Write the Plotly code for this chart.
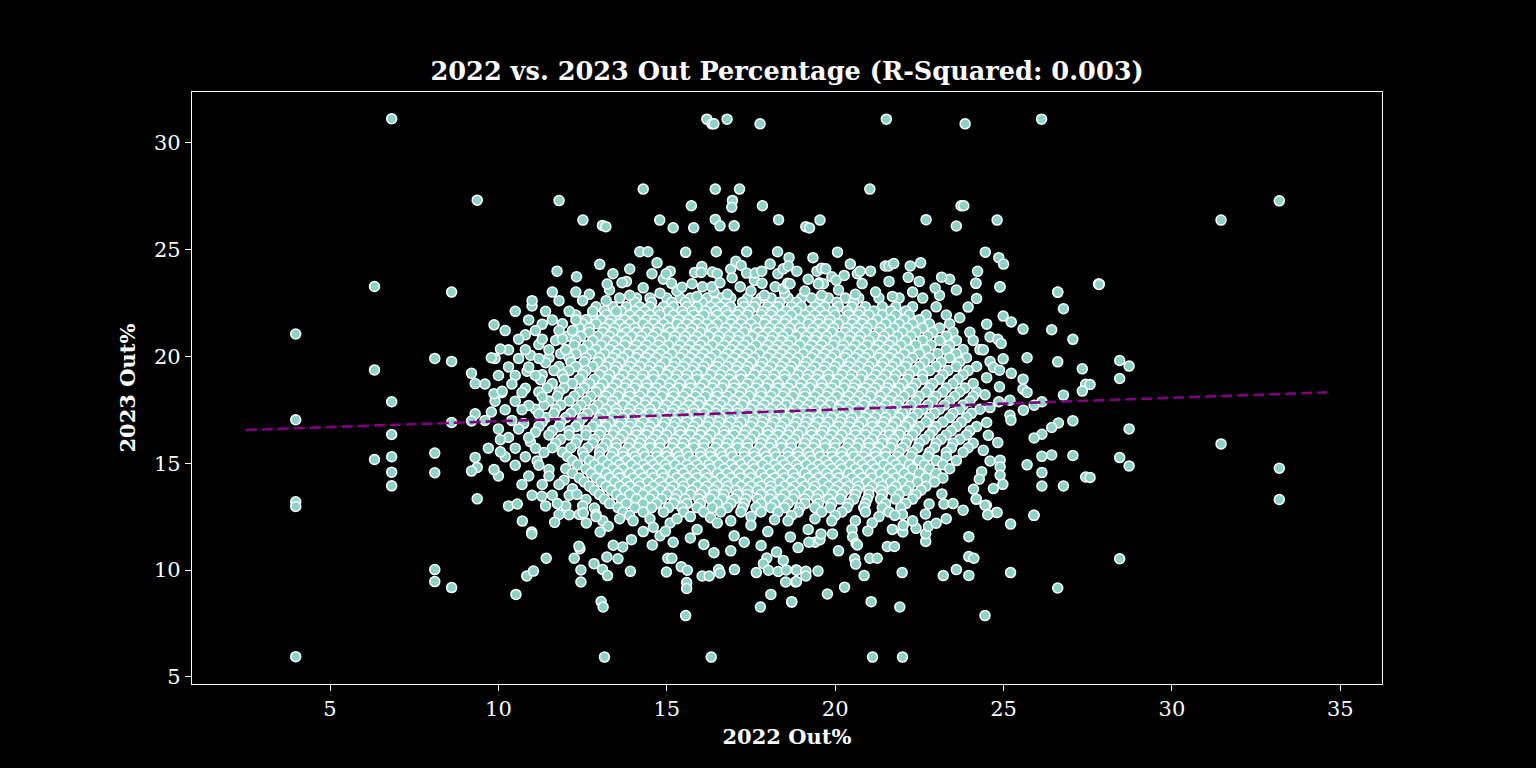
import plotly.graph_objects as go

# ---- data -----------------------------------------------------------------
# sparse points on the left side (2022 Out%, 2023 Out%)
left_pts = [
    (6.83, 31.11), (9.37, 27.30), (6.32, 23.26), (8.61, 23.00), (9.87, 21.47),
    (3.98, 21.04), (8.11, 19.90), (8.61, 19.76), (9.79, 19.93), (10.06, 20.34),
    (6.32, 19.36), (9.20, 19.20), (9.31, 18.72), (9.87, 18.25), (10.11, 18.36),
    (6.83, 17.87), (3.98, 17.03), (9.31, 17.31), (9.79, 17.39), (8.61, 16.90),
    (9.20, 16.97), (6.83, 16.34), (10.06, 16.10), (10.06, 15.53), (6.32, 15.17),
    (6.83, 15.30), (8.11, 15.47), (9.31, 15.27), (9.37, 14.80), (9.20, 14.63),
    (9.87, 14.70), (6.83, 14.58), (8.11, 14.55), (6.83, 13.94), (3.98, 13.19),
    (3.98, 12.97), (9.37, 13.33), (8.11, 10.02), (8.11, 9.46), (8.61, 9.18),
    (3.98, 5.95),
]

# sparse points on the far right
right_pts = [
    (33.19, 27.27), (31.46, 26.37), (27.84, 23.36), (28.45, 19.80), (28.73, 19.54),
    (28.45, 18.96), (27.57, 18.68), (28.73, 16.60), (31.46, 15.90), (28.45, 15.26),
    (28.73, 14.87), (33.19, 14.76), (33.19, 13.30), (28.45, 10.53), (27.57, 14.33),
]

# upper fringe of the cloud
top_pts = [
    (16.19, 31.09), (16.34, 30.87), (16.40, 30.87), (16.79, 31.09), (17.77, 30.87),
    (14.30, 27.82), (16.44, 27.82), (17.16, 27.82), (11.80, 27.28), (16.95, 27.29),
    (16.93, 26.97), (15.73, 27.04), (17.84, 27.04), (12.51, 26.37), (13.09, 26.12),
    (13.19, 26.06), (14.79, 26.37), (15.19, 26.01), (15.80, 26.01), (16.44, 26.40),
    (16.58, 26.10), (17.00, 26.10), (18.32, 26.39), (14.20, 24.89), (14.44, 24.89),
    (15.56, 24.86), (16.47, 24.89), (17.37, 24.89), (18.29, 24.89), (11.74, 23.98),
    (12.32, 23.72), (13.01, 24.30), (13.40, 23.86), (13.90, 24.08), (14.71, 24.37),
    (14.56, 23.86), (15.10, 23.98), (14.98, 23.86), (13.23, 23.38), (13.67, 23.44),
    (15.14, 23.41), (15.45, 23.23), (15.75, 23.39), (15.83, 23.92), (16.04, 24.20),
    (16.02, 23.92), (16.35, 23.94), (16.50, 23.86), (16.90, 24.08), (17.05, 24.44),
    (17.21, 24.25), (17.37, 23.89), (17.63, 23.89), (17.82, 23.98), (18.07, 24.31),
    (18.30, 23.86), (18.46, 24.09), (18.63, 24.61), (18.61, 24.22), (18.86, 23.98),
    (16.94, 23.67), (17.18, 23.25), (17.83, 23.41), (16.06, 23.25), (16.34, 23.25),
    (16.58, 23.44), (18.22, 23.25), (18.46, 23.17), (18.59, 23.41),
    (21.52, 31.09), (23.86, 30.87), (26.13, 31.09), (21.03, 27.82), (23.74, 27.04),
    (23.82, 27.04), (19.55, 26.37), (19.13, 26.06), (19.24, 26.00), (22.70, 26.39),
    (23.60, 26.09), (24.81, 26.37), (19.34, 24.61), (20.07, 24.87), (20.45, 24.31),
    (19.46, 23.98), (19.60, 24.12), (19.72, 24.09), (19.53, 23.44), (19.65, 23.39),
    (19.90, 23.72), (20.03, 23.56), (20.27, 23.78), (20.66, 23.86), (20.74, 23.98),
    (21.05, 23.98), (21.49, 24.22), (21.59, 24.22), (21.74, 24.34), (22.23, 24.22),
    (22.54, 24.37), (22.17, 23.69), (23.16, 23.70), (22.97, 23.19), (24.46, 24.87),
    (24.86, 24.61), (25.00, 24.31), (24.23, 23.97), (24.18, 23.42), (24.89, 23.24),
    (26.61, 23.00), (27.82, 23.38), (18.66, 23.39), (19.50, 23.38),
]

# lower fringe of the cloud
bottom_pts = [
    (13.15, 5.93), (16.32, 5.93), (15.56, 7.87), (10.52, 8.86), (13.05, 8.53),
    (13.11, 8.27), (10.84, 9.72), (11.04, 9.95), (12.45, 9.44), (12.45, 10.00),
    (11.42, 10.55), (12.25, 10.55), (12.42, 11.00), (12.39, 11.11), (12.84, 10.30),
    (13.09, 10.03), (13.24, 9.74), (13.22, 10.61), (13.55, 10.53), (13.92, 9.94),
    (15.59, 9.42), (15.59, 9.14), (15.43, 10.16), (15.61, 9.99), (14.99, 9.91),
    (15.03, 10.55), (15.15, 10.55), (16.05, 9.72), (16.26, 9.72), (16.54, 10.02),
    (16.58, 9.86), (17.01, 10.02), (16.40, 10.81), (17.66, 9.88), (18.09, 8.86),
    (17.78, 8.27), (18.71, 8.50), (18.53, 9.44), (18.82, 9.44), (10.71, 12.29),
    (10.99, 11.78), (10.99, 11.69), (10.30, 13.00), (10.56, 13.09), (11.29, 13.45),
    (11.67, 12.23), (14.57, 11.17), (15.19, 11.30), (14.96, 11.81), (13.95, 11.42),
    (13.69, 11.08), (13.41, 11.16), (13.02, 11.78), (13.26, 12.05), (12.61, 12.20),
    (12.52, 12.67), (11.75, 13.11), (12.10, 12.59), (12.33, 13.54), (18.67, 11.55),
    (18.26, 10.84), (18.46, 10.45), (17.97, 10.56), (17.87, 10.30), (18.02, 9.99),
    (18.31, 9.93), (18.55, 10.00), (18.84, 10.00),
    (14.0, 12.3), (14.6, 12.0), (15.3, 12.4), (15.9, 11.9), (16.5, 12.2),
    (17.0, 11.6), (17.5, 12.1), (18.0, 11.8), (18.6, 12.3), (19.2, 11.9),
    (19.9, 12.3), (20.5, 11.9), (21.1, 12.2), (21.7, 11.9), (22.3, 12.3),
    (16.1, 11.2), (16.9, 10.9), (17.3, 11.3), (19.4, 11.3), (14.3, 11.8),
    (13.6, 12.4), (12.9, 12.5),
    (21.11, 5.93), (22.00, 5.93), (24.45, 7.87), (21.92, 8.27), (21.07, 8.52),
    (26.61, 9.16), (19.77, 8.88), (20.28, 9.20), (18.71, 8.52), (18.85, 9.46),
    (18.86, 9.99), (19.13, 9.94), (19.13, 9.72), (19.49, 9.95), (20.86, 9.74),
    (21.99, 9.88), (23.21, 9.74), (23.60, 10.02), (23.97, 9.75), (25.21, 9.88),
    (25.90, 12.56), (25.21, 12.15), (23.97, 11.56), (23.97, 10.63), (24.12, 10.55),
    (22.69, 11.34), (22.69, 11.70), (22.77, 12.05), (23.00, 12.19), (22.68, 12.62),
    (22.79, 13.09), (23.17, 13.56), (23.23, 13.09), (23.50, 13.11), (24.19, 13.32),
    (24.45, 13.03), (24.53, 12.59), (24.81, 12.69), (21.55, 11.10), (21.76, 11.10),
    (21.03, 10.55), (21.25, 10.55), (20.58, 10.53), (20.61, 10.28), (20.52, 11.55),
    (20.62, 11.24), (20.66, 11.17), (20.97, 11.83), (22.01, 11.78), (22.02, 12.09),
    (21.77, 12.56), (19.22, 11.30), (19.55, 11.42), (19.92, 11.69), (19.58, 11.69),
]

# flanks of the cloud
flank_pts = [
    (24.90, 23.25), (24.18, 23.41), (26.61, 22.99), (27.84, 23.38), (26.78, 22.22),
    (24.99, 21.88), (25.23, 21.60), (25.58, 21.27), (26.43, 21.24), (27.06, 20.79),
    (24.83, 20.79), (24.93, 20.60), (24.99, 19.88), (24.70, 19.48), (24.88, 19.35),
    (25.70, 19.93), (26.61, 19.74), (27.34, 19.41), (25.23, 19.20), (25.58, 18.93),
    (25.58, 18.46), (25.70, 18.31), (24.88, 18.57), (27.44, 18.69), (27.34, 18.37),
    (26.78, 18.18), (24.86, 17.87), (25.19, 17.94), (25.59, 17.48), (25.91, 17.71),
    (26.14, 17.87), (25.19, 17.24), (25.22, 17.01), (27.06, 16.98), (26.63, 16.88),
    (26.43, 16.67), (26.14, 16.35), (25.91, 16.18), (24.83, 15.96), (26.14, 15.32),
    (26.43, 15.38), (27.06, 15.36), (25.70, 14.92), (24.90, 15.14), (24.90, 14.82),
    (24.90, 14.43), (26.14, 14.56), (27.44, 14.35), (26.14, 13.93), (26.78, 13.93),
    (24.70, 13.81), (24.98, 14.01), (24.28, 14.25), (24.11, 13.78), (24.19, 13.31),
    (24.49, 13.03), (24.79, 12.69), (25.91, 12.56),
    (11.6, 23.0), (12.3, 23.0), (11.0, 22.6), (11.8, 22.6), (12.5, 22.6), (13.2, 22.6),
    (10.5, 22.1), (11.4, 22.1), (12.1, 22.1), (12.8, 22.1), (13.5, 22.1),
    (10.9, 21.7), (11.6, 21.7), (12.3, 21.7), (10.2, 21.2), (11.1, 21.2), (11.8, 21.2),
    (12.2, 21.2), (10.6, 20.8), (11.3, 20.8), (11.9, 20.8), (10.3, 20.3), (10.8, 20.3),
    (11.5, 20.3), (12.0, 20.3), (9.9, 19.9), (10.6, 19.9), (11.2, 19.9), (10.3, 19.5),
    (10.9, 19.5), (10.0, 19.1), (10.5, 19.1), (11.1, 19.1), (9.6, 18.7), (10.4, 18.7),
    (10.1, 18.3), (10.7, 18.3), (9.9, 17.9), (10.5, 17.9), (10.2, 17.5), (10.7, 17.5),
    (9.6, 17.0), (10.4, 17.0), (10.0, 16.6), (10.6, 16.6), (10.3, 16.2), (10.9, 16.2),
    (9.7, 15.7), (10.5, 15.7), (11.1, 15.7), (10.2, 15.3), (10.8, 15.3), (10.5, 14.9),
    (11.2, 14.9), (10.0, 14.4), (10.9, 14.4), (11.5, 14.4), (10.7, 14.0), (11.3, 14.0),
    (11.8, 14.0), (11.0, 13.5), (11.6, 13.5), (12.1, 13.5), (11.4, 13.0), (12.0, 13.0),
    (12.5, 13.0), (11.8, 12.6), (12.4, 12.6), (12.9, 12.6),
]

# transition band just outside the dense core
band_pts = [
    (12.7, 22.9), (13.3, 23.1), (13.9, 22.85), (14.3, 23.2), (14.8, 22.95), (15.3, 23.05),
    (15.9, 22.8), (16.4, 23.0), (16.8, 22.9), (17.5, 23.05), (17.9, 22.85), (18.5, 22.95),
    (19.1, 23.05), (19.6, 22.85), (20.1, 23.1), (20.6, 22.9), (21.2, 23.0), (21.7, 22.8),
    (22.3, 23.0), (23.1, 22.85), (23.6, 23.1), (13.8, 23.5), (14.9, 23.6), (17.6, 23.55),
    (19.2, 23.6), (20.8, 23.4), (21.6, 23.5), (22.5, 23.5), (23.4, 23.6),
    (13.1, 12.3), (13.9, 12.55), (14.5, 12.4), (15.1, 12.2), (15.7, 12.5), (16.3, 12.45),
    (16.9, 12.3), (17.5, 12.5), (18.2, 12.35), (18.7, 12.55), (19.4, 12.4), (20.0, 12.55),
    (20.6, 12.3), (21.3, 12.5), (22.0, 12.6), (22.4, 11.95), (23.3, 12.4), (23.8, 12.8),
    (14.8, 11.6), (15.7, 11.5), (18.9, 11.05), (20.1, 10.9), (17.8, 11.15),
    (24.5, 21.5), (24.6, 20.9), (24.4, 20.3), (24.6, 19.75), (24.5, 19.0), (24.45, 18.2),
    (24.6, 17.6), (24.5, 16.9), (24.55, 16.3), (24.4, 15.6), (24.6, 15.1), (24.35, 14.6),
    (23.95, 22.3), (24.2, 22.7), (23.7, 21.8),
    (11.0, 22.35), (11.3, 21.5), (10.8, 21.0), (11.2, 20.55), (10.95, 20.05), (11.4, 19.7),
    (10.85, 19.3), (11.25, 18.9), (10.8, 18.5), (11.3, 18.1), (10.9, 17.7), (11.2, 17.3),
    (10.75, 16.85), (11.1, 16.45), (10.95, 16.0), (11.35, 15.5), (11.15, 15.1), (11.5, 14.7),
    (11.95, 14.2), (12.2, 13.8), (12.6, 13.3), (12.85, 12.9),
]

# dense core, first layer: one 2023 value per row, 2022 values along it
core_y = [22.72, 22.31, 21.93, 21.52, 21.12, 20.74, 20.31, 19.93, 19.52, 19.14,
          18.72, 18.33, 17.91, 17.52, 17.13, 16.71, 16.32, 15.93, 15.51, 15.12,
          14.74, 14.31, 13.92, 13.53, 13.11, 12.72]
core_x = [
    [13.6, 14.1, 14.5, 15.0, 15.4, 15.7, 16.2, 16.6, 16.9, 17.4, 17.8, 18.1, 18.6, 19.0, 19.3, 19.8, 20.3, 20.7, 21.3, 21.9, 22.6],
    [12.9, 13.4, 13.8, 14.2, 14.5, 14.9, 15.2, 15.6, 15.9, 16.3, 16.6, 16.9, 17.3, 17.6, 18.0, 18.3, 18.7, 19.0, 19.4, 19.7, 20.1, 20.5, 20.9, 21.4, 21.8, 22.3, 23.0],
    [12.3, 12.8, 13.2, 13.5, 13.9, 14.2, 14.5, 14.8, 15.2, 15.5, 15.8, 16.1, 16.5, 16.8, 17.1, 17.4, 17.8, 18.1, 18.4, 18.7, 19.1, 19.4, 19.7, 20.0, 20.4, 20.7, 21.0, 21.4, 21.8, 22.2, 22.7, 23.3],
    [11.9, 12.5, 12.9, 13.3, 13.6, 13.9, 14.3, 14.6, 14.9, 15.3, 15.6, 15.9, 16.2, 16.5, 16.9, 17.2, 17.5, 17.9, 18.2, 18.5, 18.8, 19.2, 19.5, 19.8, 20.1, 20.5, 20.8, 21.1, 21.5, 21.9, 22.3, 22.8, 23.4],
    [12.2, 12.7, 13.1, 13.4, 13.8, 14.1, 14.4, 14.7, 15.1, 15.4, 15.7, 16.0, 16.4, 16.7, 17.0, 17.3, 17.7, 18.0, 18.3, 18.6, 19.0, 19.3, 19.6, 19.9, 20.3, 20.6, 20.9, 21.3, 21.6, 22.0, 22.4, 22.9, 23.5, 24.0],
    [11.7, 12.3, 12.8, 13.2, 13.5, 13.8, 14.2, 14.5, 14.8, 15.2, 15.5, 15.8, 16.1, 16.5, 16.8, 17.1, 17.4, 17.8, 18.1, 18.4, 18.7, 19.1, 19.4, 19.7, 20.0, 20.4, 20.7, 21.0, 21.4, 21.7, 22.1, 22.6, 23.1, 23.6, 24.1],
    [12.0, 12.5, 12.9, 13.3, 13.6, 14.0, 14.3, 14.6, 14.9, 15.3, 15.6, 15.9, 16.2, 16.6, 16.9, 17.2, 17.5, 17.9, 18.2, 18.5, 18.8, 19.2, 19.5, 19.8, 20.2, 20.5, 20.8, 21.2, 21.5, 21.8, 22.2, 22.7, 23.3, 23.8, 24.3],
    [11.5, 12.1, 12.6, 13.0, 13.4, 13.7, 14.1, 14.4, 14.7, 15.0, 15.4, 15.7, 16.0, 16.3, 16.7, 17.0, 17.3, 17.6, 18.0, 18.3, 18.6, 18.9, 19.3, 19.6, 19.9, 20.3, 20.6, 20.9, 21.3, 21.6, 21.9, 22.3, 22.8, 23.4, 23.9],
    [11.8, 12.3, 12.8, 13.2, 13.5, 13.9, 14.2, 14.5, 14.8, 15.2, 15.5, 15.8, 16.1, 16.5, 16.8, 17.1, 17.4, 17.8, 18.1, 18.4, 18.7, 19.1, 19.4, 19.7, 20.0, 20.4, 20.7, 21.0, 21.4, 21.7, 22.1, 22.5, 23.0, 23.6, 24.2],
    [11.3, 11.9, 12.5, 13.0, 13.3, 13.7, 14.0, 14.3, 14.6, 15.0, 15.3, 15.6, 15.9, 16.3, 16.6, 16.9, 17.2, 17.6, 17.9, 18.2, 18.5, 18.9, 19.2, 19.5, 19.8, 20.2, 20.5, 20.8, 21.2, 21.5, 21.8, 22.2, 22.6, 23.2, 23.8],
    [11.6, 12.2, 12.7, 13.1, 13.5, 13.8, 14.1, 14.4, 14.8, 15.1, 15.4, 15.7, 16.1, 16.4, 16.7, 17.0, 17.4, 17.7, 18.0, 18.3, 18.7, 19.0, 19.3, 19.6, 20.0, 20.3, 20.6, 21.0, 21.3, 21.6, 22.0, 22.4, 22.9, 23.5, 24.1],
    [11.2, 11.8, 12.4, 12.9, 13.3, 13.6, 13.9, 14.3, 14.6, 14.9, 15.2, 15.6, 15.9, 16.2, 16.5, 16.9, 17.2, 17.5, 17.8, 18.2, 18.5, 18.8, 19.1, 19.5, 19.8, 20.1, 20.5, 20.8, 21.1, 21.5, 21.8, 22.2, 22.7, 23.2, 23.7, 24.2],
    [11.5, 12.1, 12.6, 13.1, 13.4, 13.8, 14.1, 14.4, 14.7, 15.1, 15.4, 15.7, 16.0, 16.4, 16.7, 17.0, 17.3, 17.7, 18.0, 18.3, 18.6, 19.0, 19.3, 19.6, 19.9, 20.3, 20.6, 20.9, 21.3, 21.6, 21.9, 22.4, 22.9, 23.4, 24.0],
    [11.1, 11.7, 12.3, 12.8, 13.2, 13.5, 13.9, 14.2, 14.5, 14.9, 15.2, 15.5, 15.8, 16.2, 16.5, 16.8, 17.1, 17.5, 17.8, 18.1, 18.4, 18.8, 19.1, 19.4, 19.7, 20.1, 20.4, 20.7, 21.1, 21.4, 21.7, 22.1, 22.6, 23.1, 23.7, 24.3],
    [11.4, 12.0, 12.5, 13.0, 13.4, 13.7, 14.0, 14.3, 14.7, 15.0, 15.3, 15.6, 16.0, 16.3, 16.6, 16.9, 17.3, 17.6, 17.9, 18.2, 18.6, 18.9, 19.2, 19.5, 19.9, 20.2, 20.5, 20.9, 21.2, 21.5, 21.9, 22.3, 22.8, 23.4, 23.9],
    [11.2, 11.8, 12.3, 12.8, 13.2, 13.6, 13.9, 14.2, 14.5, 14.9, 15.2, 15.5, 15.8, 16.2, 16.5, 16.8, 17.1, 17.5, 17.8, 18.1, 18.4, 18.8, 19.1, 19.4, 19.7, 20.1, 20.4, 20.7, 21.1, 21.4, 21.7, 22.1, 22.5, 23.0, 23.6, 24.2],
    [11.5, 12.1, 12.6, 13.0, 13.4, 13.7, 14.1, 14.4, 14.7, 15.0, 15.4, 15.7, 16.0, 16.3, 16.7, 17.0, 17.3, 17.6, 18.0, 18.3, 18.6, 18.9, 19.3, 19.6, 19.9, 20.2, 20.6, 20.9, 21.2, 21.6, 21.9, 22.3, 22.8, 23.3, 23.9],
    [11.7, 12.3, 12.8, 13.2, 13.5, 13.9, 14.2, 14.5, 14.8, 15.2, 15.5, 15.8, 16.1, 16.5, 16.8, 17.1, 17.4, 17.8, 18.1, 18.4, 18.7, 19.1, 19.4, 19.7, 20.0, 20.4, 20.7, 21.0, 21.4, 21.7, 22.1, 22.5, 23.0, 23.5, 24.1],
    [11.9, 12.5, 13.0, 13.4, 13.7, 14.0, 14.3, 14.7, 15.0, 15.3, 15.6, 16.0, 16.3, 16.6, 16.9, 17.3, 17.6, 17.9, 18.2, 18.6, 18.9, 19.2, 19.5, 19.9, 20.2, 20.5, 20.9, 21.2, 21.5, 21.9, 22.3, 22.8, 23.3, 23.8],
    [12.2, 12.7, 13.1, 13.5, 13.8, 14.1, 14.5, 14.8, 15.1, 15.4, 15.8, 16.1, 16.4, 16.7, 17.1, 17.4, 17.7, 18.0, 18.4, 18.7, 19.0, 19.3, 19.7, 20.0, 20.3, 20.7, 21.0, 21.3, 21.7, 22.0, 22.5, 23.0, 23.6],
    [12.0, 12.6, 13.0, 13.4, 13.7, 14.1, 14.4, 14.7, 15.0, 15.4, 15.7, 16.0, 16.3, 16.7, 17.0, 17.3, 17.6, 18.0, 18.3, 18.6, 18.9, 19.3, 19.6, 19.9, 20.2, 20.6, 20.9, 21.2, 21.6, 21.9, 22.3, 22.8, 23.4],
    [12.4, 12.9, 13.3, 13.6, 14.0, 14.3, 14.6, 14.9, 15.3, 15.6, 15.9, 16.2, 16.6, 16.9, 17.2, 17.5, 17.9, 18.2, 18.5, 18.8, 19.2, 19.5, 19.8, 20.1, 20.5, 20.8, 21.1, 21.5, 21.8, 22.2, 22.7, 23.2],
    [12.7, 13.2, 13.6, 13.9, 14.2, 14.6, 14.9, 15.2, 15.5, 15.9, 16.2, 16.5, 16.8, 17.2, 17.5, 17.8, 18.1, 18.5, 18.8, 19.1, 19.4, 19.8, 20.1, 20.4, 20.7, 21.1, 21.4, 21.8, 22.2, 22.7],
    [13.0, 13.5, 13.9, 14.3, 14.6, 15.0, 15.3, 15.7, 16.0, 16.4, 16.7, 17.1, 17.4, 17.8, 18.1, 18.5, 18.8, 19.2, 19.5, 19.9, 20.2, 20.6, 21.0, 21.4, 21.9, 22.4],
    [13.3, 13.8, 14.3, 14.7, 15.2, 15.6, 16.0, 16.5, 16.9, 17.3, 17.8, 18.2, 18.6, 19.1, 19.5, 19.9, 20.4, 20.9, 21.5, 22.1],
    [13.7, 14.3, 14.9, 15.5, 16.1, 16.6, 17.2, 17.8, 18.3, 18.9, 19.6, 20.2, 20.9, 21.6],
]

# dense core, second layer (rows between the first layer's rows)
core2_y = [22.52, 22.12, 21.71, 21.32, 20.93, 20.52, 20.12, 19.73, 19.33, 18.93,
           18.52, 18.13, 17.72, 17.33, 16.92, 16.51, 16.12, 15.72, 15.31, 14.92,
           14.53, 14.12, 13.73, 13.32, 12.92]
core2_x = [
    [14.05, 14.55, 15.15, 15.55, 16.05, 16.45, 16.75, 17.25, 17.65, 18.35, 18.85, 19.55, 20.05, 20.55],
    [13.15, 13.65, 14.05, 14.35, 14.75, 15.05, 15.45, 15.75, 16.15, 16.45, 16.75, 17.15, 17.45, 17.85, 18.15, 18.55, 18.85, 19.25, 19.55, 19.95, 20.35, 20.75, 21.15, 21.65, 22.1],
    [12.6, 13.05, 13.35, 13.75, 14.05, 14.4, 14.65, 15.05, 15.35, 15.65, 15.95, 16.35, 16.65, 16.95, 17.25, 17.65, 17.95, 18.25, 18.55, 18.95, 19.25, 19.55, 19.85, 20.25, 20.55, 20.85, 21.25, 21.65, 22.05, 22.5],
    [12.4, 12.7, 13.15, 13.45, 13.75, 14.05, 14.45, 14.75, 15.05, 15.45, 15.75, 16.05, 16.35, 16.75, 17.05, 17.35, 17.65, 18.05, 18.35, 18.65, 18.95, 19.35, 19.65, 19.95, 20.35, 20.65, 20.95, 21.35, 21.75, 22.15, 22.6, 23.1],
    [12.05, 12.45, 12.95, 13.3, 13.65, 13.95, 14.25, 14.6, 14.95, 15.25, 15.55, 15.9, 16.25, 16.55, 16.85, 17.15, 17.55, 17.85, 18.15, 18.45, 18.85, 19.15, 19.45, 19.75, 20.15, 20.45, 20.75, 21.15, 21.45, 21.85, 22.25, 22.75, 23.3],
    [12.25, 12.65, 13.05, 13.4, 13.75, 14.1, 14.4, 14.75, 15.05, 15.4, 15.7, 16.0, 16.35, 16.7, 17.0, 17.3, 17.65, 18.0, 18.3, 18.6, 18.95, 19.3, 19.6, 19.95, 20.25, 20.6, 20.95, 21.3, 21.6, 21.95, 22.4, 22.85, 23.4],
    [11.85, 12.3, 12.75, 13.15, 13.5, 13.85, 14.15, 14.5, 14.8, 15.15, 15.5, 15.8, 16.1, 16.45, 16.8, 17.1, 17.4, 17.75, 18.1, 18.4, 18.7, 19.05, 19.4, 19.7, 20.0, 20.35, 20.7, 21.0, 21.35, 21.7, 22.05, 22.5, 23.05, 23.6],
    [12.15, 12.55, 12.95, 13.3, 13.6, 13.95, 14.3, 14.6, 14.95, 15.25, 15.6, 15.9, 16.2, 16.55, 16.9, 17.2, 17.5, 17.85, 18.2, 18.5, 18.8, 19.15, 19.5, 19.8, 20.1, 20.45, 20.8, 21.1, 21.45, 21.8, 22.15, 22.65, 23.15, 23.7],
    [11.65, 12.1, 12.6, 13.1, 13.45, 13.8, 14.1, 14.45, 14.75, 15.1, 15.4, 15.75, 16.05, 16.4, 16.7, 17.05, 17.35, 17.7, 18.0, 18.35, 18.65, 19.0, 19.3, 19.65, 19.95, 20.3, 20.6, 20.95, 21.25, 21.6, 21.95, 22.35, 22.8, 23.35, 23.95],
    [11.95, 12.4, 12.85, 13.25, 13.6, 13.95, 14.25, 14.6, 14.9, 15.25, 15.55, 15.9, 16.2, 16.55, 16.85, 17.2, 17.5, 17.85, 18.15, 18.5, 18.8, 19.15, 19.45, 19.8, 20.1, 20.45, 20.75, 21.1, 21.4, 21.75, 22.15, 22.6, 23.1, 23.65],
    [11.45, 11.95, 12.55, 13.0, 13.4, 13.75, 14.05, 14.4, 14.7, 15.05, 15.35, 15.7, 16.0, 16.35, 16.65, 17.0, 17.3, 17.65, 17.95, 18.3, 18.6, 18.95, 19.25, 19.6, 19.9, 20.25, 20.55, 20.9, 21.2, 21.55, 21.9, 22.3, 22.8, 23.3, 23.85],
    [11.75, 12.25, 12.75, 13.2, 13.55, 13.9, 14.2, 14.55, 14.85, 15.2, 15.5, 15.85, 16.15, 16.5, 16.8, 17.15, 17.45, 17.8, 18.1, 18.45, 18.75, 19.1, 19.4, 19.75, 20.05, 20.4, 20.7, 21.05, 21.35, 21.7, 22.05, 22.5, 23.0, 23.55, 24.1],
    [11.35, 11.85, 12.45, 12.95, 13.35, 13.7, 14.0, 14.35, 14.65, 15.0, 15.3, 15.65, 15.95, 16.3, 16.6, 16.95, 17.25, 17.6, 17.9, 18.25, 18.55, 18.9, 19.2, 19.55, 19.85, 20.2, 20.5, 20.85, 21.15, 21.5, 21.85, 22.25, 22.75, 23.25, 23.8],
    [11.65, 12.15, 12.65, 13.1, 13.5, 13.85, 14.15, 14.5, 14.8, 15.15, 15.45, 15.8, 16.1, 16.45, 16.75, 17.1, 17.4, 17.75, 18.05, 18.4, 18.7, 19.05, 19.35, 19.7, 20.0, 20.35, 20.65, 21.0, 21.3, 21.65, 22.0, 22.45, 22.95, 23.5, 24.05],
    [11.3, 11.85, 12.4, 12.9, 13.3, 13.65, 13.95, 14.3, 14.6, 14.95, 15.25, 15.6, 15.9, 16.25, 16.55, 16.9, 17.2, 17.55, 17.85, 18.2, 18.5, 18.85, 19.15, 19.5, 19.8, 20.15, 20.45, 20.8, 21.1, 21.45, 21.8, 22.2, 22.7, 23.2, 23.75],
    [11.6, 12.1, 12.6, 13.05, 13.45, 13.8, 14.1, 14.45, 14.75, 15.1, 15.4, 15.75, 16.05, 16.4, 16.7, 17.05, 17.35, 17.7, 18.0, 18.35, 18.65, 19.0, 19.3, 19.65, 19.95, 20.3, 20.6, 20.95, 21.25, 21.6, 21.95, 22.4, 22.9, 23.45, 24.0],
    [11.85, 12.35, 12.85, 13.25, 13.6, 13.95, 14.25, 14.6, 14.9, 15.25, 15.55, 15.9, 16.2, 16.55, 16.85, 17.2, 17.5, 17.85, 18.15, 18.5, 18.8, 19.15, 19.45, 19.8, 20.1, 20.45, 20.75, 21.1, 21.4, 21.75, 22.15, 22.65, 23.15, 23.7],
    [11.6, 12.15, 12.65, 13.1, 13.5, 13.85, 14.15, 14.5, 14.8, 15.15, 15.45, 15.8, 16.1, 16.45, 16.75, 17.1, 17.4, 17.75, 18.05, 18.4, 18.7, 19.05, 19.35, 19.7, 20.0, 20.35, 20.65, 21.0, 21.3, 21.65, 22.0, 22.45, 22.95, 23.45, 23.95],
    [12.05, 12.55, 13.0, 13.35, 13.7, 14.05, 14.35, 14.7, 15.0, 15.35, 15.65, 16.0, 16.3, 16.65, 16.95, 17.3, 17.6, 17.95, 18.25, 18.6, 18.9, 19.25, 19.55, 19.9, 20.2, 20.55, 20.85, 21.2, 21.5, 21.85, 22.25, 22.75, 23.3],
    [12.35, 12.85, 13.25, 13.6, 13.95, 14.3, 14.6, 14.95, 15.25, 15.6, 15.9, 16.25, 16.55, 16.9, 17.2, 17.55, 17.85, 18.2, 18.5, 18.85, 19.15, 19.5, 19.8, 20.15, 20.45, 20.8, 21.1, 21.45, 21.8, 22.2, 22.65, 23.2],
    [12.2, 12.75, 13.2, 13.55, 13.9, 14.2, 14.55, 14.85, 15.2, 15.5, 15.85, 16.15, 16.5, 16.8, 17.15, 17.45, 17.8, 18.1, 18.45, 18.75, 19.1, 19.4, 19.75, 20.05, 20.4, 20.7, 21.05, 21.35, 21.7, 22.05, 22.5, 23.0],
    [12.55, 13.05, 13.45, 13.8, 14.15, 14.45, 14.8, 15.1, 15.45, 15.75, 16.1, 16.4, 16.75, 17.05, 17.4, 17.7, 18.05, 18.35, 18.7, 19.0, 19.35, 19.65, 20.0, 20.3, 20.65, 20.95, 21.3, 21.65, 22.0, 22.45, 22.95],
    [12.85, 13.35, 13.75, 14.1, 14.45, 14.8, 15.1, 15.45, 15.75, 16.1, 16.4, 16.75, 17.05, 17.4, 17.7, 18.05, 18.35, 18.7, 19.0, 19.35, 19.65, 20.0, 20.3, 20.65, 21.0, 21.35, 21.7, 22.1, 22.55],
    [13.15, 13.65, 14.1, 14.5, 14.85, 15.25, 15.55, 15.95, 16.3, 16.65, 17.0, 17.35, 17.7, 18.05, 18.4, 18.75, 19.1, 19.45, 19.8, 20.15, 20.55, 20.95, 21.35, 21.8, 22.3],
    [13.55, 14.05, 14.55, 15.05, 15.45, 15.9, 16.35, 16.8, 17.25, 17.65, 18.1, 18.5, 18.95, 19.4, 19.85, 20.35, 20.85, 21.4, 21.95],
]

# fitted line end points, as drawn
trend_x = [2.5, 34.6]
trend_y = [16.55, 18.31]

x_ticks = [5, 10, 15, 20, 25, 30, 35]
y_ticks = [5, 10, 15, 20, 25, 30]

# ---- assemble ---------------------------------------------------------------
xs, ys = [], []
rows = list(zip(core_y, core_x)) + list(zip(core2_y, core2_x))
rows.sort(key=lambda r: -r[0])
for y, row in rows:
    xs += row
    ys += [y] * len(row)
for group in (band_pts, flank_pts, bottom_pts, top_pts, left_pts, right_pts):
    xs += [p[0] for p in group]
    ys += [p[1] for p in group]

FONT = "DejaVu Serif"

fig = go.Figure()
fig.add_trace(go.Scatter(
    x=xs, y=ys, mode="markers",
    marker=dict(size=10, color="#8dd3c7", line=dict(color="white", width=1.5)),
    showlegend=False, hoverinfo="skip",
))
fig.add_trace(go.Scatter(
    x=trend_x, y=trend_y, mode="lines",
    line=dict(color="#800080", width=2.6, dash="11px,5px"),
    showlegend=False, hoverinfo="skip",
))

axis_style = dict(
    showgrid=False, zeroline=False, showline=True, mirror=True,
    linecolor="white", linewidth=1.3, ticks="outside", ticklen=6,
    tickwidth=1.3, tickcolor="white",
    tickfont=dict(family=FONT, size=21, color="white"),
)

fig.update_xaxes(
    range=[0.9, 36.24], tickvals=x_ticks, **axis_style,
    title=dict(text="2022 Out%", standoff=8,
               font=dict(family=FONT, size=21, color="white", weight="bold")),
)
fig.update_yaxes(
    range=[4.67, 32.36], tickvals=y_ticks, **axis_style,
    title=dict(text="2023 Out%", standoff=12,
               font=dict(family=FONT, size=21, color="white", weight="bold")),
)

fig.update_layout(
    width=1536, height=768,
    margin=dict(l=192, r=154, t=92, b=84),
    paper_bgcolor="black", plot_bgcolor="black",
    title=dict(
        text="2022 vs. 2023 Out Percentage (R-Squared: 0.003)",
        x=0.5124, xanchor="center", y=1 - 71 / 768, yanchor="middle",
        font=dict(family=FONT, size=25.6, color="white", weight="bold"),
    ),
)

fig.write_html(
    "out.html",
    config={"displayModeBar": False},
    post_script="document.body.style.margin='0';document.body.style.background='black';",
)
